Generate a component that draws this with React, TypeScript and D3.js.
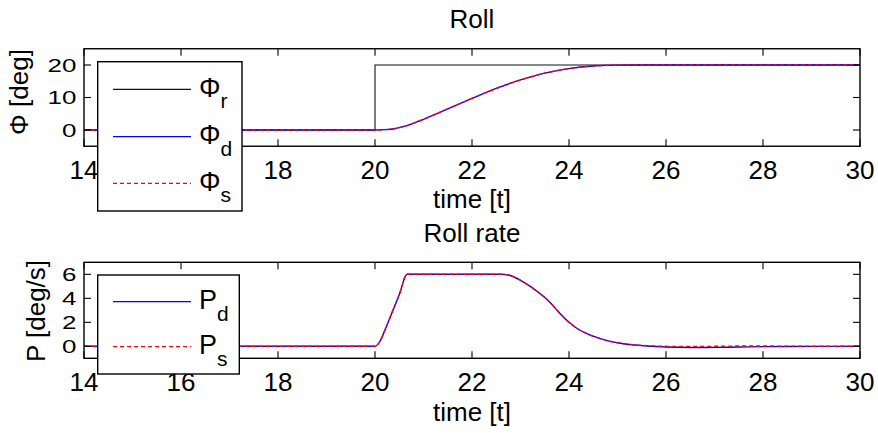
import React from "react";
import * as d3 from "d3";

// Roll angle: reference step, desired and simulated response
const timeRef = [14, 20, 20, 30];
const phiRef = [0, 0, 20, 20];

const timePhi = [14, 20, 20.2, 20.4, 20.6, 20.8, 21, 21.5, 22, 22.5, 23, 23.5, 24, 24.5, 25, 25.5, 30];
const phiD = [0, 0, 0.1, 0.4, 1.1, 2.1, 3.3, 6.5, 9.7, 12.8, 15.4, 17.5, 18.9, 19.7, 19.95, 20, 20];
const phiS = [0, 0, 0.1, 0.4, 1.1, 2.1, 3.3, 6.5, 9.7, 12.8, 15.4, 17.5, 18.9, 19.7, 19.95, 20, 20];

// Roll rate: desired and simulated
const timeRate = [14, 20, 20.1, 20.2, 20.3, 20.4, 20.5, 20.66, 22.6, 22.7, 22.8, 23.0, 23.2, 23.4, 23.6, 23.8, 24.0, 24.2, 24.4, 24.6, 24.8, 25.0, 25.3, 25.6, 26.0, 26.5, 27.0, 27.5, 28.0, 29.0, 30];
const pD = [0, 0, 0.4, 1.3, 2.3, 3.3, 4.3, 6, 6, 5.97, 5.88, 5.5, 5.0, 4.4, 3.7, 2.8, 2.0, 1.4, 1.0, 0.7, 0.45, 0.3, 0.13, 0.03, -0.06, -0.1, -0.09, -0.06, -0.03, -0.01, 0];
const pS = [0, 0, 0.4, 1.3, 2.3, 3.3, 4.3, 6, 6, 5.97, 5.88, 5.5, 5.0, 4.4, 3.7, 2.8, 2.0, 1.4, 1.0, 0.7, 0.45, 0.3, 0.14, 0.05, 0.0, -0.02, 0.0, 0.02, 0.02, 0.01, 0];

const xTicks = [14, 16, 18, 20, 22, 24, 26, 28, 30];
const rollTicks = [0, 10, 20];
const rateTicks = [0, 2, 4, 6];

const FONT = "'Liberation Sans', Arial, Helvetica, sans-serif";
const W = 878;
const H = 433;
const LEFT = 84;
const RIGHT = 860;
const TICK = 7;

type Series = { t: number[]; v: number[]; color: string; dash?: string; width: number; smooth: boolean };

type PanelProps = {
  id: string;
  top: number;
  bottom: number;
  yDomain: [number, number];
  yTicks: number[];
  title: string;
  yLabel: string;
  yLabelX: number;
  yLabelY: number;
  xLabelY: number;
  series: Series[];
  legend: { main: string; sub: string; color: string; dash?: string }[];
  legendBox: { x: number; y: number; w: number; h: number; rows: number[] };
};

function Panel(p: PanelProps) {
  const x = d3.scaleLinear().domain([14, 30]).range([LEFT, RIGHT]);
  const y = d3.scaleLinear().domain(p.yDomain).range([p.bottom, p.top]);

  const paths = p.series.map((s) => {
    const pts: [number, number][] = s.t.map((t, i) => [t, s.v[i]]);
    const gen = d3
      .line<[number, number]>()
      .x((d) => x(d[0]))
      .y((d) => y(d[1]))
      .curve(s.smooth ? d3.curveMonotoneX : d3.curveLinear);
    return gen(pts) || "";
  });

  const cx = (LEFT + RIGHT) / 2;
  const lb = p.legendBox;

  return (
    <g>
      <text x={cx} y={p.top - 20.5} textAnchor="middle" fontSize={26} fontFamily={FONT}>
        {p.title}
      </text>
      <defs>
        <clipPath id={`clip-${p.id}`}>
          <rect x={LEFT} y={p.top} width={RIGHT - LEFT} height={p.bottom - p.top} />
        </clipPath>
      </defs>
      <g clipPath={`url(#clip-${p.id})`}>
        {p.series.map((s, i) => (
          <path
            key={i}
            d={paths[i]}
            fill="none"
            stroke={s.color}
            strokeWidth={s.width}
            strokeDasharray={s.dash}
          />
        ))}
      </g>
      {/* axes box */}
      <rect x={LEFT} y={p.top} width={RIGHT - LEFT} height={p.bottom - p.top} fill="none" stroke="#000" strokeWidth={1.4} />
      {/* x ticks on bottom and top */}
      {xTicks.map((t) => (
        <g key={`xt${t}`}>
          <line x1={x(t)} x2={x(t)} y1={p.bottom} y2={p.bottom - TICK} stroke="#000" strokeWidth={1.1} />
          <line x1={x(t)} x2={x(t)} y1={p.top} y2={p.top + TICK} stroke="#000" strokeWidth={1.1} />
          <text x={x(t)} y={p.bottom + 32.5} textAnchor="middle" fontSize={26} fontFamily={FONT}>
            {t}
          </text>
        </g>
      ))}
      {/* y ticks on left and right */}
      {p.yTicks.map((v) => (
        <g key={`yt${v}`}>
          <line x1={LEFT} x2={LEFT + TICK} y1={y(v)} y2={y(v)} stroke="#000" strokeWidth={1.1} />
          <line x1={RIGHT} x2={RIGHT - TICK} y1={y(v)} y2={y(v)} stroke="#000" strokeWidth={1.1} />
          <g transform={`translate(76.5, ${y(v)}) scale(1, 0.74)`}>
            <text x={0} y={0} dy="0.36em" textAnchor="end" fontSize={26} fontFamily={FONT}>
              {v}
            </text>
          </g>
        </g>
      ))}
      <text
        transform={`translate(${p.yLabelX}, ${p.yLabelY}) rotate(-90)`}
        textAnchor="middle"
        fontSize={26}
        fontFamily={FONT}
      >
        {p.yLabel}
      </text>
      <text x={cx} y={p.xLabelY} textAnchor="middle" fontSize={26} fontFamily={FONT}>
        time [t]
      </text>
      {/* legend */}
      <rect x={lb.x} y={lb.y} width={lb.w} height={lb.h} fill="#fff" stroke="#000" strokeWidth={1.4} />
      {p.legend.map((e, i) => (
        <g key={`lg${i}`}>
          <line
            x1={113}
            x2={191}
            y1={lb.rows[i]}
            y2={lb.rows[i]}
            stroke={e.color}
            strokeWidth={1.3}
            strokeDasharray={e.dash}
          />
          <text x={199} y={lb.rows[i] + 7.5} fontSize={27} fontFamily={FONT}>
            {e.main}
            <tspan dy={11.5} fontSize={21}>
              {e.sub}
            </tspan>
          </text>
        </g>
      ))}
    </g>
  );
}

export default function App() {
  return (
    <svg
      width={W}
      height={H}
      viewBox={`0 0 ${W} ${H}`}
      style={{ position: "absolute", left: 0, top: 0, background: "#fff" }}
    >
      <rect x={0} y={0} width={W} height={H} fill="#fff" />
      <Panel
        id="roll"
        top={48.75}
        bottom={146.25}
        yDomain={[-5, 25]}
        yTicks={rollTicks}
        title="Roll"
        yLabel="Φ [deg]"
        yLabelX={28}
        yLabelY={92}
        xLabelY={207.5}
        series={[
          { t: timeRef, v: phiRef, color: "#111", width: 1.1, smooth: false },
          { t: timePhi, v: phiD, color: "#0000ff", width: 1.4, smooth: true },
          { t: timePhi, v: phiS, color: "#ff0000", width: 1.4, dash: "4,3", smooth: true },
        ]}
        legend={[
          { main: "Φ", sub: "r", color: "#111" },
          { main: "Φ", sub: "d", color: "#0000ff" },
          { main: "Φ", sub: "s", color: "#ff0000", dash: "4,3" },
        ]}
        legendBox={{ x: 97.7, y: 61.7, w: 144.3, h: 149.3, rows: [89.3, 136.7, 183.3] }}
      />
      <Panel
        id="rate"
        top={262.3}
        bottom={358.3}
        yDomain={[-1, 7]}
        yTicks={rateTicks}
        title="Roll rate"
        yLabel="P [deg/s]"
        yLabelX={45}
        yLabelY={311}
        xLabelY={420.5}
        series={[
          { t: timeRate, v: pD, color: "#0000ff", width: 1.4, smooth: true },
          { t: timeRate, v: pS, color: "#ff0000", width: 1.4, dash: "4,3", smooth: true },
        ]}
        legend={[
          { main: "P", sub: "d", color: "#0000ff" },
          { main: "P", sub: "s", color: "#ff0000", dash: "4,3" },
        ]}
        legendBox={{ x: 97.7, y: 275, w: 141.6, h: 99, rows: [301.7, 346.7] }}
      />
    </svg>
  );
}
